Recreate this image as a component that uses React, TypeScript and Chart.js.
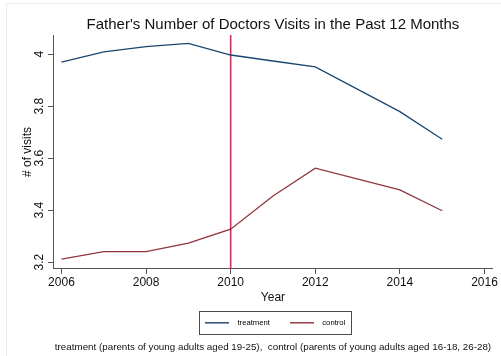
import React, { useEffect, useRef } from "react";
import { Chart, registerables } from "chart.js";

Chart.register(...registerables);

// Survey years (2013 not collected)
const years = [2006, 2007, 2008, 2009, 2010, 2011, 2012, 2014, 2015];
// Mean number of doctor visits by group
const treatment = [3.97, 4.009, 4.029, 4.042, 3.997, 3.974, 3.951, 3.779, 3.673];
const control = [3.212, 3.241, 3.241, 3.273, 3.327, 3.455, 3.562, 3.478, 3.398];
const seriesNames = ["treatment", "control"];
const policyYear = 2010;
const xTicks = [2006, 2008, 2010, 2012, 2014, 2016];
const yTicks = [3.2, 3.4, 3.6, 3.8, 4.0];

const NAVY = "#1a476f";
const MAROON = "#90353b";
const FONT = "'Liberation Sans', Arial, Helvetica, sans-serif";

// short horizontal swatch used as a legend key
function makeSwatch(color: string): HTMLCanvasElement {
  const c = document.createElement("canvas");
  c.width = 24;
  c.height = 2;
  const g = c.getContext("2d")!;
  g.fillStyle = color;
  g.globalAlpha = 0.9;
  g.fillRect(0, 0, 24, 1.4);
  return c;
}

const policyLine = {
  id: "policyLine",
  beforeDatasetsDraw(chart: any) {
    const { ctx, chartArea, scales } = chart;
    const x = scales.x.getPixelForValue(policyYear);
    ctx.save();
    ctx.strokeStyle = "#e0245c";
    ctx.lineWidth = 1.6;
    ctx.beginPath();
    ctx.moveTo(x, chartArea.top);
    ctx.lineTo(x, chartArea.bottom);
    ctx.stroke();
    ctx.restore();
  },
};

const frames = {
  id: "frames",
  beforeDraw(chart: any) {
    const { ctx } = chart;
    ctx.save();
    ctx.fillStyle = "#ffffff";
    ctx.fillRect(0, 0, chart.width, chart.height);
    ctx.strokeStyle = "#ececec";
    ctx.lineWidth = 1;
    ctx.strokeRect(6.5, 3.5, chart.width + 10, chart.height + 10);
    ctx.restore();
  },
  afterDraw(chart: any) {
    const lg = chart.legend;
    if (!lg || !lg.legendHitBoxes || !lg.legendHitBoxes.length) return;
    const hb = lg.legendHitBoxes;
    const first = hb[0];
    const last = hb[hb.length - 1];
    const cy = first.top + first.height / 2;
    const left = Math.round(first.left - 2) + 0.5;
    const right = Math.round(last.left + last.width + 6) + 0.5;
    const ctx = chart.ctx;
    ctx.save();
    ctx.strokeStyle = "#4a4a4a";
    ctx.lineWidth = 1;
    ctx.strokeRect(left, Math.round(cy - 12) + 0.5, right - left, 23);
    ctx.restore();
  },
};

export default function App() {
  const ref = useRef<HTMLCanvasElement>(null);

  useEffect(() => {
    document.body.style.margin = "0";
    const swatches = [makeSwatch(NAVY), makeSwatch(MAROON)];
    const chart = new Chart(ref.current!, {
      type: "line",
      data: {
        datasets: [
          {
            label: seriesNames[0],
            data: years.map((x, i) => ({ x, y: treatment[i] })),
            borderColor: NAVY,
            backgroundColor: NAVY,
            borderWidth: 1.3,
            pointRadius: 0,
            tension: 0,
          },
          {
            label: seriesNames[1],
            data: years.map((x, i) => ({ x, y: control[i] })),
            borderColor: MAROON,
            backgroundColor: MAROON,
            borderWidth: 1.3,
            pointRadius: 0,
            tension: 0,
          },
        ],
      },
      options: {
        animation: false,
        responsive: false,
        events: [],
        layout: { padding: { left: 0, right: 8, top: 0, bottom: 0 } },
        font: { family: FONT },
        plugins: {
          tooltip: { enabled: false },
          title: {
            display: true,
            fullSize: false,
            text: "Father's Number of Doctors Visits in the Past 12 Months",
            color: "#111",
            font: { family: FONT, size: 15, weight: "normal", lineHeight: 1.2 },
            padding: { top: 16, bottom: 1 },
          },
          legend: {
            position: "bottom",
            fullSize: false,
            labels: {
              color: "#222",
              font: { family: FONT, size: 7.7 },
              usePointStyle: true,
              pointStyleWidth: 33,
              boxHeight: 7.7,
              padding: 15.5,
              generateLabels: (ch: any) =>
                ch.data.datasets.map((d: any, i: number) => ({
                  text: d.label,
                  fillStyle: d.borderColor,
                  strokeStyle: d.borderColor,
                  lineWidth: 0,
                  pointStyle: swatches[i],
                  datasetIndex: i,
                  hidden: false,
                })),
            },
          },
          subtitle: {
            display: true,
            position: "bottom",
            fullSize: false,
            text: "treatment (parents of young adults aged 19-25),  control (parents of young adults aged 16-18, 26-28)",
            color: "#111",
            font: { family: FONT, size: 9.8, lineHeight: 1.2 },
            padding: { top: 3.97, bottom: 3.12 },
          },
        },
        scales: {
          x: {
            type: "linear",
            min: 2005.8,
            max: 2016.2,
            afterBuildTicks: (s: any) => {
              s.ticks = xTicks.map((value) => ({ value }));
            },
            border: { display: true, color: "#555", width: 1 },
            grid: { display: true, drawOnChartArea: false, drawTicks: true, tickLength: 5, color: "#555" },
            ticks: {
              padding: 3,
              color: "#111",
              font: { family: FONT, size: 12, lineHeight: 1 },
              maxRotation: 0,
              callback: (v: any) => String(v),
            },
            title: {
              display: true,
              text: "Year",
              color: "#111",
              font: { family: FONT, size: 12, lineHeight: 1 },
              padding: { top: 0, bottom: 0 },
            },
          },
          y: {
            type: "linear",
            min: 3.174,
            max: 4.074,
            afterBuildTicks: (s: any) => {
              s.ticks = yTicks.map((value) => ({ value }));
            },
            afterFit: (s: any) => {
              s.width = 53;
            },
            border: { display: true, color: "#555", width: 1 },
            grid: { display: true, drawOnChartArea: false, drawTicks: true, tickLength: 5, color: "#555" },
            ticks: {
              padding: 0,
              crossAlign: "center",
              minRotation: 90,
              maxRotation: 90,
              color: "#111",
              font: { family: FONT, size: 12 },
              callback: (v: any) => String(+Number(v).toFixed(1)),
            },
            title: {
              display: true,
              text: "# of visits",
              color: "#111",
              font: { family: FONT, size: 12 },
              padding: { top: 20.5, bottom: 0 },
            },
          },
        },
      },
      plugins: [policyLine, frames],
    });
    return () => chart.destroy();
  }, []);

  return (
    <div style={{ position: "absolute", left: 0, top: 0, width: 501, height: 356 }}>
      <canvas ref={ref} width={501} height={356} />
    </div>
  );
}
